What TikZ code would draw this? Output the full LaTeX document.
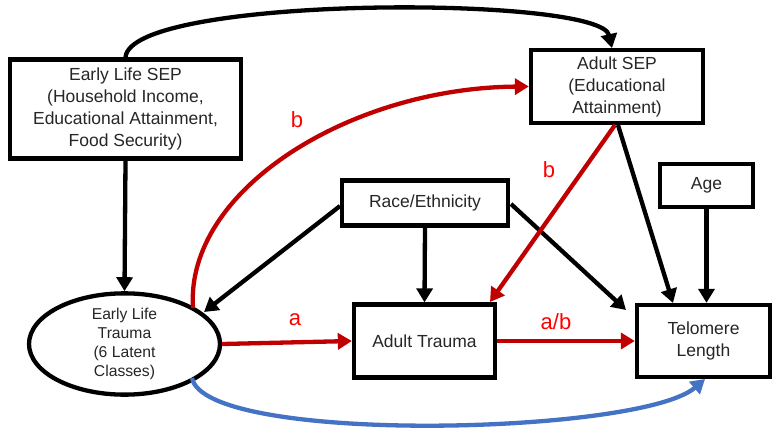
\documentclass[tikz,border=0pt]{standalone}
\usepackage{fontspec}
\setmainfont{Liberation Sans}
\usetikzlibrary{arrows.meta,shapes.geometric}
\definecolor{pathred}{HTML}{C00000}
\definecolor{labred}{HTML}{FF0000}
\definecolor{pathblue}{HTML}{4472C4}
\definecolor{txt}{HTML}{262626}
\tikzset{
  boxnode/.style={draw=black,line width=4.3pt,rectangle,align=center,inner sep=0pt,text=txt,font=\fontsize{17.5}{22}\selectfont},
  ellnode/.style={draw=black,line width=4.3pt,ellipse,align=center,inner sep=0pt,text=txt,font=\fontsize{15.7}{19}\selectfont},
  arr/.style={line width=4.3pt,-{Triangle[length=14pt,width=16pt]}},
  blk/.style={arr,draw=black},
  redarr/.style={arr,draw=pathred},
  bluearr/.style={arr,draw=pathblue},
  lab/.style={text=labred,font=\fontsize{22}{26}\selectfont,inner sep=0pt}
}
\begin{document}
\begin{tikzpicture}[x=1pt,y=-1pt]
\useasboundingbox (0,0) rectangle (772,434);
\node[boxnode,minimum width=231pt,minimum height=99pt] (esep) at (125.5,109) {Early Life SEP\\(Household Income,\\Educational Attainment,\\Food Security)};
\node[ellnode,minimum width=191pt,minimum height=92pt] (ell) at (124.5,344) {Early Life\\Trauma\\(6 Latent\\Classes)};
\node[boxnode,minimum width=172pt,minimum height=73pt] (asep) at (617,86.5) {Adult SEP\\(Educational\\Attainment)};
\node[boxnode,minimum width=93pt,minimum height=43pt] (age) at (706.5,185.5) {Age};
\node[boxnode,minimum width=166pt,minimum height=45pt] (race) at (425,203) {Race/Ethnicity};
\node[boxnode,minimum width=141pt,minimum height=73pt] (at) at (424.5,341) {Adult Trauma};
\node[boxnode,minimum width=133pt,minimum height=72pt] (tel) at (703.5,341) {Telomere\\Length};
% connectors
\coordinate (asepin) at (612,48);
\draw[blk] (esep.north) .. controls (130,-5) and (600,-5) .. (asepin);
\draw[blk] (esep.south) -- (ell.north);
\coordinate (ellb) at (193,308);
\draw[redarr] (ellb) .. controls (185,190) and (350,88) .. (asep.west);
\coordinate (raceL) at (340,206);
\coordinate (ellR) at (204,312);
\draw[blk] (raceL) -- (ellR);
\draw[blk] (race.south) -- (at.north);
\coordinate (raceR) at (511,204);
\coordinate (telTL) at (626,310);
\draw[blk] (raceR) -- (telTL);
\coordinate (asepB1) at (615,125);
\coordinate (atTR) at (490,302);
\draw[redarr] (asepB1) -- (atTR);
\coordinate (asepB2) at (618,125);
\coordinate (telT) at (673,303);
\draw[blk] (asepB2) -- (telT);
\draw[blk] (age.south) -- (tel.north -| age.south);
\draw[redarr] (ell.east) -- (at.west);
\draw[redarr] (at.east) -- (tel.west);
\coordinate (ellbot) at (192,378);
\coordinate (telB) at (705,379);
\draw[bluearr] (ellbot) .. controls (205,445) and (640,435) .. (telB);
% labels
\node[lab] (la) at (295,320) {a};
\node[lab] (lb1) at (297,120) {b};
\node[lab] (lb2) at (549,170) {b};
\node[lab] (lab) at (556,322) {a/b};
\end{tikzpicture}
\end{document}
